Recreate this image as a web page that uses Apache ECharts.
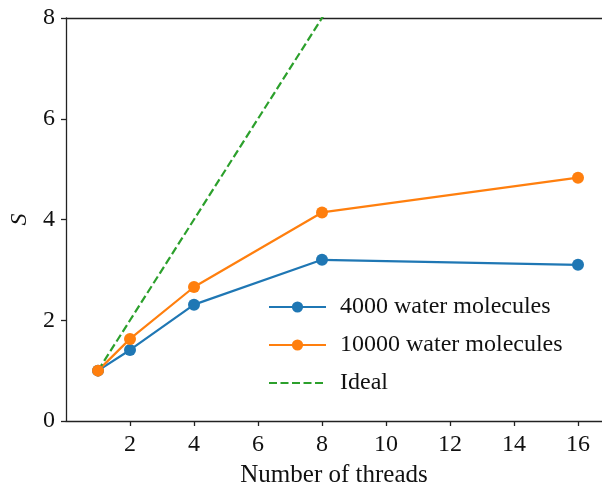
<!DOCTYPE html>
<html>
<head>
<meta charset="utf-8">
<script src="https://cdn.jsdelivr.net/npm/echarts@6/dist/echarts.min.js"></script>
<style>
  html, body { margin: 0; padding: 0; background: #fff; }
  #chart { width: 602px; height: 482px; }
</style>
</head>
<body>
<div id="chart"></div>
<script>
// threads on the x axis
const threads = [1, 2, 4, 8, 16];
// speedup values
const speedup4000 = [1.0, 1.41, 2.31, 3.20, 3.10];
const speedup10000 = [1.0, 1.63, 2.66, 4.14, 4.83];
const speedupIdeal = [1, 2, 4, 8, 16];
const xTicks = [2, 4, 6, 8, 10, 12, 14, 16];
const seriesNames = ['4000 water molecules', '10000 water molecules', 'Ideal'];

const FONT = 'Liberation Serif';
const pair = (xs, ys) => xs.map((x, i) => [x, ys[i]]);

const chart = echarts.init(document.getElementById('chart'));

chart.setOption({
  animation: false,
  textStyle: { fontFamily: FONT },
  grid: { left: 66, right: 0, top: 18, bottom: 61, outerBoundsMode: 'none' },
  legend: {
    orient: 'vertical',
    left: 263,
    top: 290,
    itemWidth: 57,
    itemHeight: 14,
    itemGap: 14,
    textStyle: { fontFamily: FONT, fontSize: 24, color: '#111', lineHeight: 24, padding: [0, 0, 0, 9] },
    data: [
      { name: seriesNames[0] },
      { name: seriesNames[1] },
      { name: seriesNames[2], itemStyle: { opacity: 0 } }
    ]
  },
  xAxis: [{
    type: 'value',
    min: 0,
    max: 16.75,
    name: 'Number of threads',
    nameLocation: 'middle',
    nameGap: 42,
    nameTextStyle: { fontFamily: FONT, fontSize: 25, color: '#111' },
    axisLine: { lineStyle: { color: '#222', width: 1.3 } },
    axisTick: { show: true, length: 5, inside: false, customValues: xTicks, lineStyle: { color: '#222', width: 1.3 } },
    axisLabel: { fontFamily: FONT, fontSize: 24, color: '#111', margin: 12, customValues: xTicks },
    splitLine: { show: false }
  }, {
    type: 'value',
    position: 'top',
    min: 0,
    max: 16.75,
    axisLine: { show: true, lineStyle: { color: '#222', width: 1.3 } },
    axisTick: { show: false },
    axisLabel: { show: false },
    splitLine: { show: false }
  }],
  yAxis: {
    type: 'value',
    min: 0,
    max: 8,
    interval: 2,
    name: 'S',
    nameLocation: 'middle',
    nameGap: 30,
    nameRotate: 90,
    nameTextStyle: { fontFamily: FONT, fontSize: 24, fontStyle: 'italic', color: '#111' },
    axisLine: { show: true, lineStyle: { color: '#222', width: 1.3 } },
    axisTick: { show: true, length: 5, lineStyle: { color: '#222', width: 1.3 } },
    axisLabel: { fontFamily: FONT, fontSize: 24, color: '#111', margin: 11 },
    splitLine: { show: false }
  },
  series: [{
    name: seriesNames[0],
    type: 'line',
    data: pair(threads, speedup4000),
    symbol: 'circle',
    symbolSize: 12,
    itemStyle: { color: '#1f77b4' },
    lineStyle: { color: '#1f77b4', width: 2.2 }
  }, {
    name: seriesNames[1],
    type: 'line',
    data: pair(threads, speedup10000),
    symbol: 'circle',
    symbolSize: 12,
    itemStyle: { color: '#ff7f0e' },
    lineStyle: { color: '#ff7f0e', width: 2.2 }
  }, {
    name: seriesNames[2],
    type: 'line',
    data: pair(threads, speedupIdeal),
    symbol: 'none',
    clip: true,
    itemStyle: { color: '#2ca02c' },
    lineStyle: { color: '#2ca02c', width: 2.2, type: [8, 3.5] }
  }]
});
</script>
</body>
</html>
